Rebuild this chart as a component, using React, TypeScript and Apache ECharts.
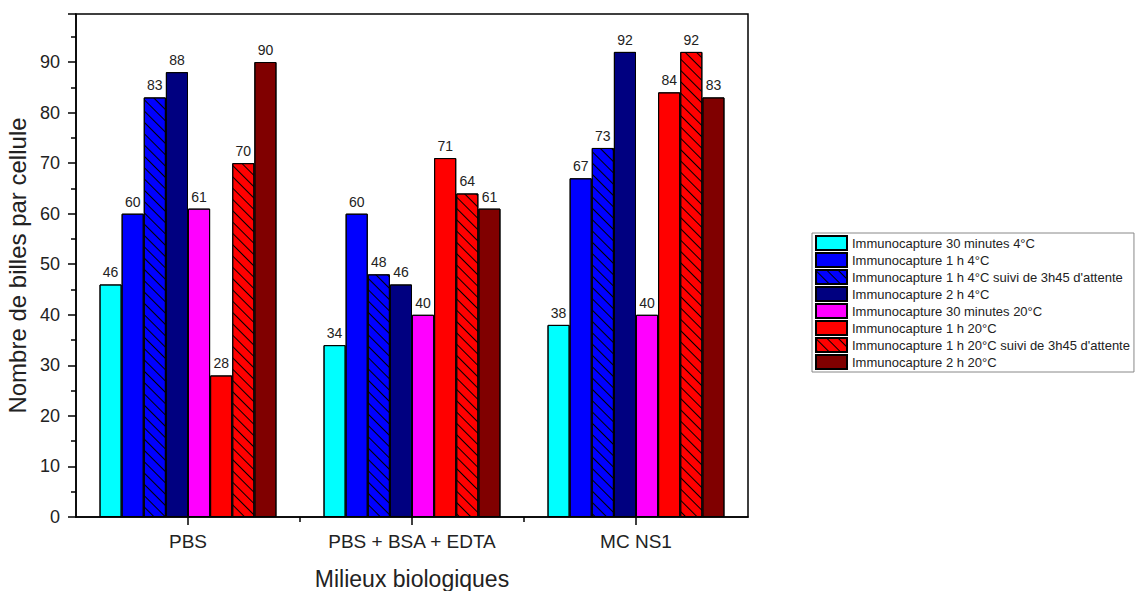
import React, { useEffect, useRef } from "react";
import * as echarts from "echarts";

const categories = ["PBS", "PBS + BSA + EDTA", "MC NS1"];
const seriesNames = [
  "Immunocapture 30 minutes 4°C",
  "Immunocapture 1 h 4°C",
  "Immunocapture 1 h 4°C suivi de 3h45 d'attente",
  "Immunocapture 2 h 4°C",
  "Immunocapture 30 minutes 20°C",
  "Immunocapture 1 h 20°C",
  "Immunocapture 1 h 20°C suivi de 3h45 d'attente",
  "Immunocapture 2 h 20°C",
];
const s30min4 = [46, 34, 38];
const s1h4 = [60, 60, 67];
const s1h4wait = [83, 48, 73];
const s2h4 = [88, 46, 92];
const s30min20 = [61, 40, 40];
const s1h20 = [28, 71, 84];
const s1h20wait = [70, 64, 92];
const s2h20 = [90, 61, 83];
const seriesValues = [s30min4, s1h4, s1h4wait, s2h4, s30min20, s1h20, s1h20wait, s2h20];
const colors = ["#00FFFF", "#0000FF", "#0000FF", "#000080", "#FF00FF", "#FF0000", "#FF0000", "#800000"];
const hatched = [false, false, true, false, false, false, true, false];

const FONT = "'Liberation Sans', Arial, sans-serif";

export default function App() {
  const ref = useRef<HTMLDivElement>(null);
  useEffect(() => {
    if (!ref.current) return;
    const chart = echarts.init(ref.current, undefined, { renderer: "svg" });
    const hatch = {
      symbol: "rect",
      symbolSize: 1,
      dashArrayX: [1, 0],
      dashArrayY: [1, 7],
      rotation: Math.PI / 4,
      color: "#000",
    };
    chart.setOption({
      animation: false,
      backgroundColor: "#fff",
      textStyle: { fontFamily: FONT },
      grid: {
        left: 76,
        right: 391,
        top: 14,
        bottom: 74,
        outerBoundsMode: "none",
        containLabel: false,
        show: true,
        borderColor: "#000",
        borderWidth: 1.5,
        backgroundColor: "transparent",
      },
      legend: {
        orient: "vertical",
        left: 812,
        top: 233,
        icon: "rect",
        itemWidth: 31,
        itemHeight: 14,
        itemGap: 1,
        padding: [2, 4, 2, 3],
        borderColor: "#888",
        borderWidth: 1,
        textStyle: { fontSize: 13, lineHeight: 14, color: "#222", fontFamily: FONT },
        data: seriesNames,
      },
      xAxis: {
        type: "category",
        data: categories,
        name: "Milieux biologiques",
        nameLocation: "middle",
        nameGap: 50,
        nameTextStyle: { fontSize: 23, color: "#222", fontFamily: FONT },
        axisLine: { lineStyle: { color: "#000", width: 1.5 } },
        axisTick: { show: false },
        minorTick: { show: false },
        axisLabel: { fontSize: 19, color: "#222", margin: 15, fontFamily: FONT },
      },
      yAxis: {
        type: "value",
        min: 0,
        max: 99.5,
        interval: 10,
        name: "Nombre de billes par cellule",
        nameLocation: "middle",
        nameGap: 38,
        nameTextStyle: { fontSize: 24, color: "#222", fontFamily: FONT },
        axisLine: { show: true, lineStyle: { color: "#000", width: 1.5 } },
        axisTick: { show: true, inside: false, length: 8, lineStyle: { color: "#000", width: 1.5 } },
        minorTick: { show: true, splitNumber: 2, length: 5, lineStyle: { color: "#000", width: 1.5 } },
        splitLine: { show: false },
        axisLabel: {
          fontSize: 18,
          color: "#222",
          margin: 16,
          fontFamily: FONT,
          showMaxLabel: false,
        },
      },
      series: seriesNames.map((name, i) => ({
        name,
        type: "bar",
        data: seriesValues[i],
        barGap: "0%",
        barCategoryGap: "21%",
        itemStyle: {
          color: colors[i],
          borderColor: "#000",
          borderWidth: 1,
          decal: hatched[i] ? hatch : { symbol: "none" },
        },
        label: {
          show: true,
          position: "top",
          distance: 5,
          fontSize: 14,
          color: "#222",
          fontFamily: FONT,
        },
      })),
    });
    // x-axis ticks: major at category centers, minor at boundaries (positions from the axis scale)
    const gs: any[] = [];
    const yPix = chart.convertToPixel({ yAxisIndex: 0 }, 0) as number;
    categories.forEach((c, i) => {
      const x = chart.convertToPixel({ xAxisIndex: 0 }, c) as number;
      gs.push({ type: "line", shape: { x1: x, y1: yPix, x2: x, y2: yPix + 8 }, style: { stroke: "#000", lineWidth: 1.5 } });
      if (i < categories.length - 1) {
        const x2 = chart.convertToPixel({ xAxisIndex: 0 }, categories[i + 1]) as number;
        const xm = (x + x2) / 2;
        gs.push({ type: "line", shape: { x1: xm, y1: yPix, x2: xm, y2: yPix + 5 }, style: { stroke: "#000", lineWidth: 1.5 } });
      }
    });
    chart.setOption({ graphic: gs });
    return () => chart.dispose();
  }, []);
  return <div ref={ref} style={{ position: "absolute", left: 0, top: 0, width: 1139, height: 591 }} />;
}
